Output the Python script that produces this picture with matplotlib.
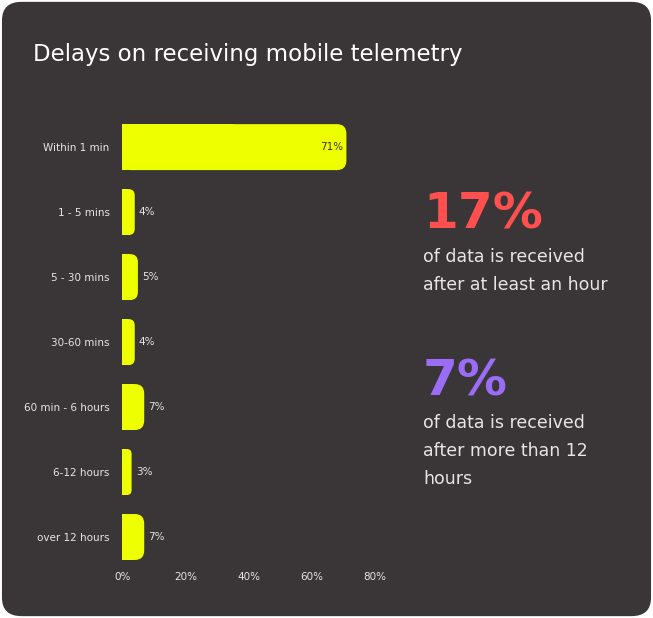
import matplotlib
matplotlib.use("Agg")
import matplotlib.pyplot as plt
from matplotlib.patches import FancyBboxPatch, Rectangle

categories = ["Within 1 min", "1 - 5 mins", "5 - 30 mins", "30-60 mins", "60 min - 6 hours", "6-12 hours", "over 12 hours"]
values = [71, 4, 5, 4, 7, 3, 7]
xticks = [0, 20, 40, 60, 80]

BG = "#3a3536"; YEL = "#eeff00"; TXT = "#e6e6e6"
fig = plt.figure(figsize=(6.53, 6.18), dpi=100)
fig.patch.set_facecolor("white")
fig.patches.append(FancyBboxPatch((0.003, 0.003), 0.994, 0.994, boxstyle="round,pad=0,rounding_size=0.03",
                                  transform=fig.transFigure, facecolor=BG, edgecolor="none", zorder=-1))

ax = fig.add_axes([0.187, 0.0785, 0.387, 0.736])
ax.set_facecolor("none")
ax.set_xlim(0, 80); ax.set_ylim(len(categories) - 0.5, -0.5)
for s in ax.spines.values(): s.set_visible(False)
h = 46 / 65
r = 3.0
asp = (1 / 65) / (80 / 253)
for i, v in enumerate(values):
    ax.add_patch(FancyBboxPatch((0, i - h / 2), v, h, boxstyle=f"round,pad=0,rounding_size={min(r, v/2)}",
                                mutation_aspect=asp, facecolor=YEL, edgecolor="none"))
    ax.add_patch(Rectangle((0, i - h / 2), v / 2, h, facecolor=YEL, edgecolor="none"))
    if v > 20:
        ax.text(v - 1, i, f"{v}%", ha="right", va="center", fontsize=7.5, color="#333333")
    else:
        ax.text(v + 1.3, i, f"{v}%", ha="left", va="center", fontsize=7.5, color=TXT)
ax.set_yticks(range(len(categories)), categories)
ax.set_xticks(xticks, [f"{t}%" for t in xticks])
ax.tick_params(length=0, colors=TXT, labelsize=7.5)
ax.tick_params(axis="y", pad=9)
ax.tick_params(axis="x", pad=2)

fig.text(33/653, 1-55/618, "Delays on receiving mobile telemetry", fontsize=16.5, color="white", va="center")
fig.text(423/653, 1-215/618, "17%", fontsize=36, fontweight="bold", color="#ff4f4f", va="center")
fig.text(423/653, 1-257/618, "of data is received", fontsize=12.5, color=TXT, va="center")
fig.text(423/653, 1-285/618, "after at least an hour", fontsize=12.5, color=TXT, va="center")
fig.text(423/653, 1-382/618, "7%", fontsize=36, fontweight="bold", color="#9b6cf5", va="center")
fig.text(423/653, 1-423/618, "of data is received", fontsize=12.5, color=TXT, va="center")
fig.text(423/653, 1-451/618, "after more than 12", fontsize=12.5, color=TXT, va="center")
fig.text(423/653, 1-479/618, "hours", fontsize=12.5, color=TXT, va="center")
fig.savefig("out.png", dpi=100, facecolor=fig.get_facecolor())
